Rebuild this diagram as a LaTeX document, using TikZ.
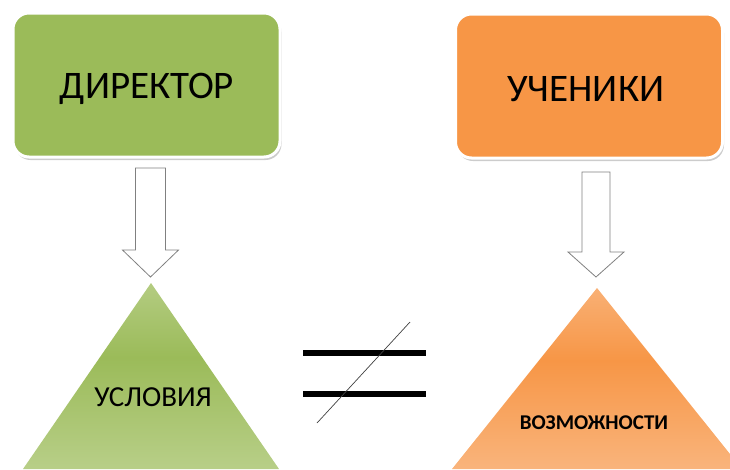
\documentclass[tikz,border=0pt]{standalone}
\usepackage{fontspec}
\setmainfont{Carlito}
\usetikzlibrary{calc,shadows}
\definecolor{grn}{HTML}{9BBB59}
\definecolor{lgrn}{HTML}{C4D79C}
\definecolor{org}{HTML}{F79646}
\definecolor{lorg}{HTML}{FAC193}
\definecolor{arrowgray}{HTML}{808080}
\pgfdeclareverticalshading{gshade}{100bp}{color(0bp)=(lgrn); color(12bp)=(lgrn); color(55bp)=(grn); color(88bp)=(lgrn); color(100bp)=(lgrn)}
\pgfdeclareverticalshading{oshade}{100bp}{color(0bp)=(lorg); color(12bp)=(lorg); color(55bp)=(org); color(88bp)=(lorg); color(100bp)=(lorg)}
\begin{document}
\begin{tikzpicture}[x=1pt,y=-1pt,
  box/.style={rectangle, rounded corners=16pt, minimum width=267pt, minimum height=144pt,
    draw=white, line width=3pt, inner sep=0pt,
    drop shadow={shadow xshift=1.5pt, shadow yshift=-3pt, fill=black, opacity=0.2}},
  boxtext/.style={font=\fontsize{39}{47}\selectfont},
  barrow/.style={draw=arrowgray, fill=white, line width=0.8pt, line join=miter},
  bar/.style={line width=6pt, black},
  slash/.style={line width=0.7pt, black!75}]
\useasboundingbox (0,0) rectangle (730,469);
% boxes
\node[box, fill=grn] (dir) at (146.5,85) {};
\node[box, fill=org] (uch) at (589,86) {};
\node[boxtext] (dirt) at (147,89) {ДИРЕКТОР};
\node[boxtext] (ucht) at (586,89) {УЧЕНИКИ};
% triangles
\coordinate (lt) at (151,283);
\coordinate (rt) at (597,288);
\path[shading=gshade] (lt) -- (23,469) -- (279,469) -- cycle;
\path[shading=oshade] (rt) -- (452,469) -- (742,469) -- cycle;
\node (usl) at (153,397) {\fontsize{29}{34}\selectfont УСЛОВИЯ};
\node (voz) at (594,423) {\fontsize{21}{25}\selectfont\bfseries ВОЗМОЖНОСТИ};
% block arrows
\coordinate (la) at (150.5,168);
\coordinate (lb) at (150.5,277);
\coordinate (ra) at (596,172);
\coordinate (rb) at (596,277);
\draw[barrow] ($(la)+(-15,0)$) -- ($(lb)+(-15,-27)$) -- ($(lb)+(-28,-27)$) -- (lb)
  -- ($(lb)+(28,-27)$) -- ($(lb)+(15,-27)$) -- ($(la)+(15,0)$) -- cycle;
\draw[barrow] ($(ra)+(-14,0)$) -- ($(rb)+(-14,-25)$) -- ($(rb)+(-28,-25)$) -- (rb)
  -- ($(rb)+(28,-25)$) -- ($(rb)+(14,-25)$) -- ($(ra)+(14,0)$) -- cycle;
% not equal sign
\coordinate (b1a) at (303,353);
\coordinate (b1b) at (426,353);
\coordinate (b2a) at (303,394);
\coordinate (b2b) at (426,394);
\coordinate (sa) at (410,322);
\coordinate (sb) at (317,423);
\draw[bar] (b1a) -- (b1b);
\draw[bar] (b2a) -- (b2b);
\draw[slash] (sa) -- (sb);
\end{tikzpicture}
\end{document}
